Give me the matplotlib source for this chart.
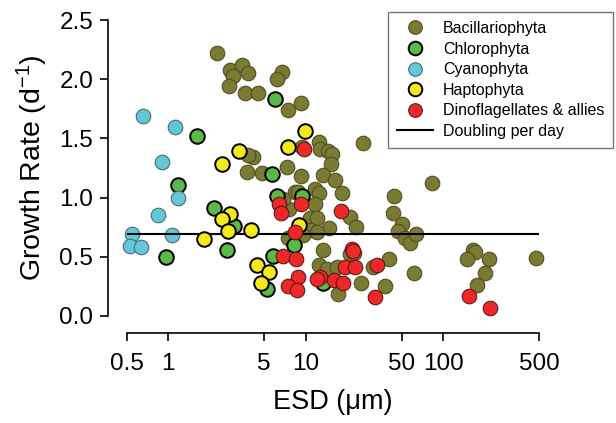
import matplotlib
matplotlib.use("Agg")
import matplotlib.pyplot as plt
from matplotlib.lines import Line2D

plt.rcParams['font.family'] = ['Liberation Sans', 'DejaVu Sans']
plt.rcParams['mathtext.default'] = 'regular'

# ---- data ----
bac_esd = [2.27, 2.84, 3.42, 2.94, 3.78, 2.78, 6.69, 6.15, 3.61, 4.52, 7.47, 9.25,
           12.6, 12.7, 4.15, 9.35, 14.6, 26.3, 3.72, 4.78, 7.27, 9.25, 15.5, 15.2,
           13.4, 16.4, 18.3, 11.7, 12.6, 8.36, 7.6, 11.7, 10.7, 12.1, 14.9, 21.0,
           23.3, 10.7, 12.1, 6.87, 9.6, 7.47, 44.0, 43.4, 50.0, 47.2, 52.8, 57.4,
           63.5, 83.4, 13.3, 21.0, 22.5, 12.6, 14.3, 16.9, 30.8, 40.6, 61.4, 25.1,
           37.8, 17.3, 166, 171, 148, 217, 202, 176, 475, 3.8, 8.84]
bac_rate = [2.22, 2.08, 2.12, 2.03, 2.05, 1.94, 2.06, 2.00, 1.88, 1.88, 1.74, 1.80,
            1.47, 1.41, 1.34, 1.43, 1.39, 1.46, 1.22, 1.21, 1.26, 1.18, 1.37, 1.28,
            1.19, 1.15, 1.04, 1.07, 1.04, 1.05, 0.90, 0.95, 0.83, 0.83, 0.74, 0.84,
            0.75, 0.73, 0.71, 0.99, 0.68, 0.66, 1.01, 0.87, 0.78, 0.72, 0.66, 0.62,
            0.69, 1.12, 0.56, 0.52, 0.53, 0.43, 0.40, 0.41, 0.41, 0.48, 0.36, 0.28,
            0.25, 0.19, 0.56, 0.54, 0.48, 0.48, 0.36, 0.26, 0.49, 1.36, 1.05]

chl_esd = [1.63, 1.18, 2.16, 3.01, 2.66, 0.97, 5.98, 5.66, 6.15, 9.45, 8.22, 5.75, 5.2, 13.4]
chl_rate = [1.52, 1.11, 0.91, 0.76, 0.56, 0.50, 1.83, 1.20, 1.01, 1.01, 0.60, 0.51, 0.23, 0.28]

cya_esd = [0.66, 1.13, 0.90, 1.18, 0.85, 0.55, 1.06, 0.53, 0.63]
cya_rate = [1.69, 1.60, 1.30, 1.00, 0.85, 0.69, 0.68, 0.59, 0.58]

hap_esd = [3.27, 2.45, 2.81, 2.45, 2.73, 1.83, 4.0, 4.4, 5.43, 4.7, 7.47, 9.88, 8.98]
hap_rate = [1.39, 1.28, 0.86, 0.82, 0.72, 0.65, 0.73, 0.43, 0.37, 0.28, 1.43, 1.56, 0.77]

din_esd = [9.72, 6.43, 6.58, 9.25, 18.1, 8.36, 6.87, 8.5, 8.84, 7.4, 8.7, 12.7, 12.0,
           16.1, 18.6, 19.3, 22.8, 21.6, 22.0, 33.3, 32.0, 155, 219]
din_rate = [1.41, 0.95, 0.87, 0.95, 0.89, 0.71, 0.51, 0.48, 0.33, 0.25, 0.22, 0.33, 0.31,
            0.30, 0.28, 0.41, 0.41, 0.57, 0.55, 0.43, 0.16, 0.17, 0.07]

doubling_x = [0.5, 500]
doubling_rate = 0.693

xticks = [0.5, 1, 5, 10, 50, 100, 500]
xtick_labels = ['0.5', '1', '5', '10', '50', '100', '500']
yticks = [0.0, 0.5, 1.0, 1.5, 2.0, 2.5]

# ---- figure ----
W, H = 616, 423
fig = plt.figure(figsize=(W / 100, H / 100), dpi=100)
left, right, bottom, top = 126.7, 539.3, 316, 20
ax = fig.add_axes([left / W, 1 - bottom / H, (right - left) / W, (bottom - top) / H])
ax.set_xscale('log')
ax.set_xlim(0.5, 500)
ax.set_ylim(0, 2.5)

s = 110
ax.scatter(bac_esd, bac_rate, s=s, c='#7A7A32', edgecolors='#4f4f22', linewidths=0.8,
           zorder=2, clip_on=False, label='Bacillariophyta')
ax.scatter(chl_esd, chl_rate, s=s, c='#5BB947', edgecolors='black', linewidths=1.4,
           zorder=3, clip_on=False, label='Chlorophyta')
ax.scatter(cya_esd, cya_rate, s=s, c='#64C7D9', edgecolors='#4a6d75', linewidths=0.8,
           zorder=3, clip_on=False, label='Cyanophyta')
ax.plot(doubling_x, [doubling_rate] * 2, color='black', lw=1.5, zorder=4,
        label='Doubling per day')
ax.scatter(hap_esd, hap_rate, s=s, c='#F4EA1A', edgecolors='black', linewidths=1.4,
           zorder=5, clip_on=False, label='Haptophyta')
ax.scatter(din_esd, din_rate, s=s, c='#EE2828', edgecolors='#5a1a1a', linewidths=0.8,
           zorder=6, clip_on=False, label='Dinoflagellates & allies')

for sp in ['top', 'right']:
    ax.spines[sp].set_visible(False)
ax.spines['left'].set_position(('outward', 13.5))
ax.spines['bottom'].set_position(('outward', 12.2))
ax.spines['left'].set_bounds(0, 2.5)
ax.spines['bottom'].set_bounds(0.5, 500)
for sp in ['left', 'bottom']:
    ax.spines[sp].set_linewidth(1.2)

ax.set_xticks(xticks)
ax.set_xticklabels(xtick_labels)
ax.xaxis.set_minor_locator(matplotlib.ticker.NullLocator())
ax.set_yticks(yticks)
ax.set_yticklabels([f'{v:.1f}' for v in yticks])
ax.tick_params(axis='both', labelsize=17.5, direction='out', length=5.5, width=1.2)
ax.tick_params(axis='x', pad=9)
ax.tick_params(axis='y', pad=5)

ax.set_xlabel('ESD (μm)', fontsize=19.5, labelpad=10)
ax.set_ylabel('Growth Rate (d$^{-1}$)', fontsize=20.5, labelpad=7)

handles = [
    Line2D([], [], ls='none', marker='o', ms=9.8, mfc='#7A7A32', mec='#4f4f22', mew=0.8),
    Line2D([], [], ls='none', marker='o', ms=9.8, mfc='#5BB947', mec='black', mew=1.4),
    Line2D([], [], ls='none', marker='o', ms=9.8, mfc='#64C7D9', mec='#4a6d75', mew=0.8),
    Line2D([], [], ls='none', marker='o', ms=9.8, mfc='#F4EA1A', mec='black', mew=1.4),
    Line2D([], [], ls='none', marker='o', ms=9.8, mfc='#EE2828', mec='#5a1a1a', mew=0.8),
    Line2D([], [], color='black', lw=1.5),
]
labels = ['Bacillariophyta', 'Chlorophyta', 'Cyanophyta', 'Haptophyta',
          'Dinoflagellates & allies', 'Doubling per day']
leg = fig.legend(handles, labels, loc='upper left',
                 bbox_to_anchor=(388 / W, 1 - 12 / H), fontsize=11.5,
                 frameon=True, fancybox=False, edgecolor='#555555',
                 handlelength=2.25, handletextpad=0.63, labelspacing=0.35,
                 borderpad=0.56, borderaxespad=0)
leg.get_frame().set_linewidth(1.0)

fig.savefig('out.png', dpi=100)
